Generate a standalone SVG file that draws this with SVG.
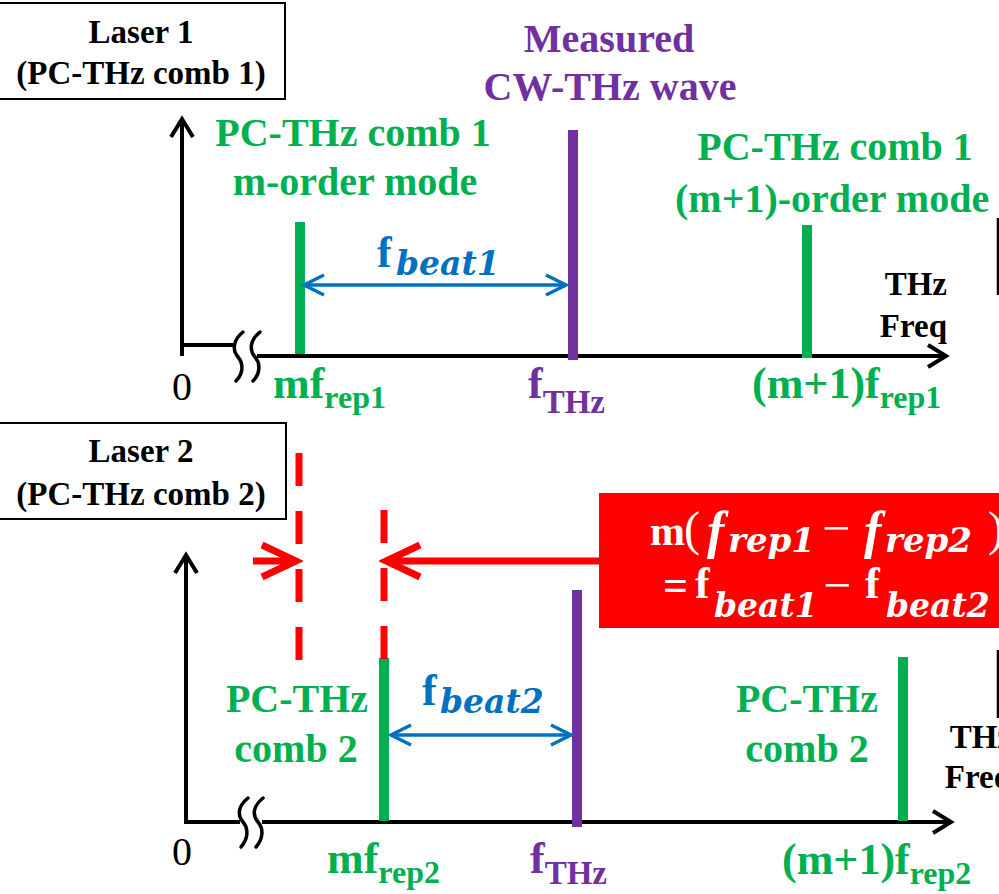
<svg xmlns="http://www.w3.org/2000/svg" width="999" height="894" viewBox="0 0 999 894">
<style>
.t{font-family:"Liberation Serif","Times New Roman",serif;font-weight:bold}
.r{font-family:"Liberation Serif","Times New Roman",serif;font-weight:normal}
.mi{font-family:"DejaVu Serif",serif;font-weight:bold;font-style:italic}
.fi{font-family:"Liberation Serif",serif;font-weight:bold;font-style:italic}
.blk{fill:#000}
.grn{fill:#00B050}
.pur{fill:#7030A0}
.blu{fill:#0070C0}
.wht{fill:#fff}
.axis{stroke:#000;stroke-width:4;fill:none}
.brk{stroke:#000;stroke-width:3.5;fill:none;stroke-linecap:round}
.gl{stroke:#00B050;stroke-width:10}
.pl{stroke:#7030A0;stroke-width:10}
.box{fill:#fff;stroke:#000;stroke-width:2}
.barrow{stroke:#0070C0;stroke-width:3.5;fill:none}
.rarrow{stroke:#FF0000;stroke-width:7;fill:none}
.rdash{stroke:#FF0000;stroke-width:7;stroke-dasharray:33 25;fill:none}
</style>
<defs>
<marker id="hk" markerUnits="userSpaceOnUse" markerWidth="26" markerHeight="28" refX="21" refY="13" orient="auto">
<path d="M3,2 L21,13 L3,24" fill="none" stroke="#000" stroke-width="4"/>
</marker>
<marker id="hb" markerUnits="userSpaceOnUse" markerWidth="26" markerHeight="26" refX="22" refY="12" orient="auto-start-reverse">
<path d="M2,2 L22,12 L2,22" fill="none" stroke="#0070C0" stroke-width="3.5"/>
</marker>
<marker id="hr" markerUnits="userSpaceOnUse" markerWidth="44" markerHeight="40" refX="37" refY="20" orient="auto">
<path d="M3,4 L37,20 L3,36" fill="none" stroke="#FF0000" stroke-width="7"/>
</marker>
</defs>
<rect width="999" height="894" fill="#fff"/>

<g id="laser1-label">
<rect class="box" x="-5" y="3" width="290" height="96"/>
<text class="t blk" font-size="33" text-anchor="middle" x="141" y="43">Laser 1</text>
<text class="t blk" font-size="33" text-anchor="middle" x="141" y="84">(PC-THz comb 1)</text>
</g>

<g id="axes-top">
<path class="axis" d="M182,356 V345 H233"/>
<path class="axis" d="M182,347 V119" marker-end="url(#hk)"/>
<path class="axis" d="M257,356 H946" marker-end="url(#hk)"/>
<path class="brk" d="M243,332 C233,340 232,350 238,357 C244,364 243,374 236,381"/>
<path class="brk" d="M260,332 C250,340 249,350 255,357 C261,364 260,374 253,381"/>
<text class="r blk" font-size="40" text-anchor="middle" x="182" y="400">0</text>
<text class="t blk" font-size="33" text-anchor="end" x="947" y="295">THz</text>
<text class="t blk" font-size="33" text-anchor="end" x="947" y="337">Freq</text>
</g>

<g id="top-comb-m">
<line class="gl" x1="300" y1="222" x2="300" y2="354"/>
<text class="t grn" font-size="40" text-anchor="middle" x="353" y="146">PC-THz comb 1</text>
<text class="t grn" font-size="40" text-anchor="middle" x="355" y="195">m-order mode</text>
<text class="t grn" font-size="44" x="273" y="398">mf<tspan font-size="32" y="408">rep1</tspan></text>
</g>

<g id="top-cw-thz">
<line class="pl" x1="573" y1="130" x2="573" y2="360"/>
<text class="t pur" font-size="40" text-anchor="middle" x="609" y="52">Measured</text>
<text class="t pur" font-size="40" text-anchor="middle" x="610" y="100">CW-THz wave</text>
<text class="t pur" font-size="44" x="528" y="398">f<tspan font-size="33" y="413">THz</tspan></text>
</g>

<g id="top-comb-m1">
<line class="gl" x1="807" y1="225" x2="807" y2="358"/>
<text class="t grn" font-size="40" text-anchor="middle" x="835" y="160">PC-THz comb 1</text>
<text class="t grn" font-size="40" x="675" y="212">(m+1)-order mode</text>
<text class="t grn" font-size="44" x="752" y="398">(m+1)f<tspan font-size="32" y="408">rep1</tspan></text>
</g>

<g id="top-right-edge">
<line x1="998" y1="218" x2="998" y2="295" stroke="#000" stroke-width="2.5"/>
</g>

<g id="laser2-label">
<rect class="box" x="-5" y="423" width="291" height="96"/>
<text class="t blk" font-size="33" text-anchor="middle" x="141" y="462">Laser 2</text>
<text class="t blk" font-size="33" text-anchor="middle" x="141" y="505">(PC-THz comb 2)</text>
</g>

<g id="axes-bottom">
<path class="axis" d="M186,822 V555"  marker-end="url(#hk)"/>
<path class="axis" d="M184,822 H240"/>
<path class="axis" d="M262,822 H951" marker-end="url(#hk)"/>
<path class="brk" d="M248,798 C238,806 237,815 243,822 C249,829 248,839 241,847"/>
<path class="brk" d="M263,798 C253,806 252,815 258,822 C264,829 263,839 256,847"/>
<text class="r blk" font-size="40" text-anchor="middle" x="182" y="865">0</text>
<text class="t blk" font-size="33" text-anchor="end" x="1012" y="748">THz</text>
<text class="t blk" font-size="33" text-anchor="end" x="1012" y="788">Freq</text>
</g>

<g id="bottom-comb-m">
<line class="gl" x1="384" y1="658" x2="384" y2="821"/>
<text class="t grn" font-size="40" text-anchor="middle" x="297" y="712">PC-THz</text>
<text class="t grn" font-size="40" text-anchor="middle" x="296" y="762">comb 2</text>
<text class="t grn" font-size="44" x="327" y="873">mf<tspan font-size="32" y="883">rep2</tspan></text>
</g>

<g id="bottom-cw-thz">
<line class="pl" x1="577" y1="590" x2="577" y2="827"/>
<text class="t pur" font-size="44" x="530" y="873">f<tspan font-size="33" y="884">THz</tspan></text>
</g>

<g id="bottom-comb-m1">
<line class="gl" x1="903" y1="657" x2="903" y2="821"/>
<text class="t grn" font-size="40" text-anchor="middle" x="807" y="712">PC-THz</text>
<text class="t grn" font-size="40" text-anchor="middle" x="807" y="762">comb 2</text>
<text class="t grn" font-size="44" x="782" y="874">(m+1)f<tspan font-size="32" y="884">rep2</tspan></text>
</g>

<g id="bottom-right-edge">
<line x1="998" y1="650" x2="998" y2="718" stroke="#000" stroke-width="2.5"/>
</g>

<g id="formula-box">
<rect x="599" y="493" width="410" height="135" fill="#FF0000"/>
<text class="wht" y="545"><tspan class="t" font-size="42" x="650">m</tspan><tspan class="r" font-size="48" x="684">(</tspan><tspan class="fi" font-size="52" x="707" y="548">f</tspan><tspan class="mi" font-size="34" x="728" y="552">rep1</tspan><tspan class="r" font-size="50" x="822" y="545">−</tspan><tspan class="fi" font-size="52" x="864" y="548">f</tspan><tspan class="mi" font-size="34" x="885" y="552">rep2</tspan><tspan class="r" font-size="48" x="988" y="545">)</tspan></text>
<text class="wht" y="600"><tspan class="t" font-size="44" x="663">=</tspan><tspan class="t" font-size="44" x="695" y="598">f</tspan><tspan class="mi" font-size="33" x="714" y="617">beat1</tspan><tspan class="r" font-size="50" x="823" y="602">−</tspan><tspan class="t" font-size="44" x="865" y="598">f</tspan><tspan class="mi" font-size="33" x="886" y="617">beat2</tspan></text>
</g>

<g id="beat-labels">
<text class="blu" y="267"><tspan class="t" font-size="44" x="377">f</tspan><tspan class="mi" font-size="33" x="396" y="275">beat1</tspan></text>
<text class="blu" y="705"><tspan class="t" font-size="44" x="422">f</tspan><tspan class="mi" font-size="33" x="440" y="713">beat2</tspan></text>
</g>

<g id="connectors">
<line class="barrow" x1="304" y1="285" x2="566" y2="285" marker-start="url(#hb)" marker-end="url(#hb)"/>
<line class="barrow" x1="391" y1="735" x2="571" y2="735" marker-start="url(#hb)" marker-end="url(#hb)"/>
<line class="rdash" x1="299" y1="453" x2="299" y2="660"/>
<line class="rdash" x1="384" y1="510" x2="384" y2="660"/>
<line class="rarrow" x1="253" y1="561" x2="296" y2="561" marker-end="url(#hr)"/>
<line class="rarrow" x1="599" y1="561" x2="386" y2="561" marker-end="url(#hr)"/>
</g>
</svg>
